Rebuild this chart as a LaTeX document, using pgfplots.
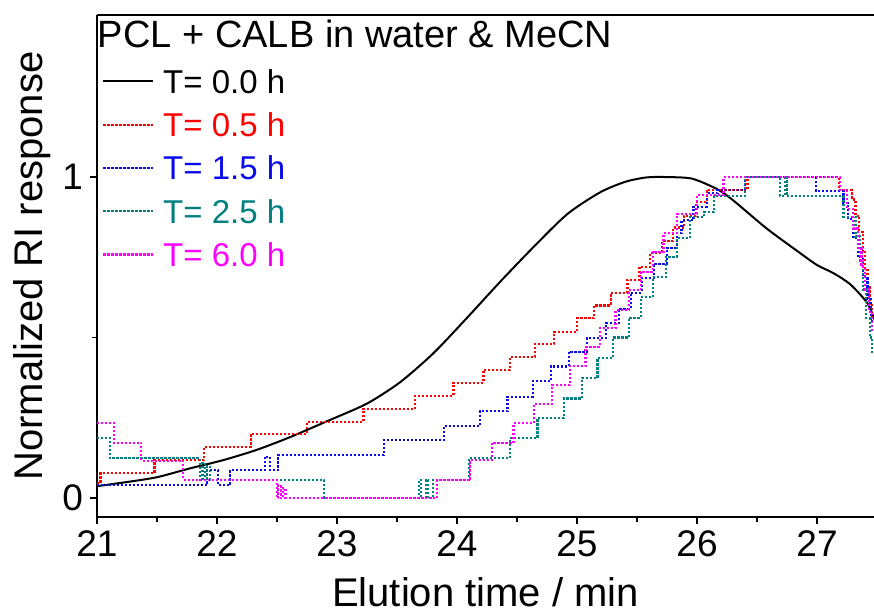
\documentclass[border=0pt]{standalone}
\usepackage{pgfplots}
\pgfplotsset{compat=1.18}
\usepackage{fontspec}
\setmainfont{Liberation Sans}
\definecolor{cred}{RGB}{255,0,0}
\definecolor{cblue}{RGB}{10,10,235}
\definecolor{cteal}{RGB}{0,128,128}
\definecolor{cmag}{RGB}{255,0,255}
\tikzset{dotl/.style={line width=1.1pt, dash pattern=on 1.1pt off 0.9pt}}
\begin{document}
\begin{tikzpicture}
\begin{axis}[
  name=ax, scale only axis, width=388.5pt, height=251pt,
  xmin=21, xmax=27.475, ymin=-0.059, ymax=1.505,
  axis x line*=box, axis y line*=left,
  xtick={21,22,...,27}, minor xtick={21.5,22.5,...,27.5}, xtick pos=left,
  ytick={0,1}, minor ytick={0.5}, ytick pos=left,
  tick align=outside, major tick length=3.5pt, minor tick length=2.5pt,
  tick style={line width=0.8pt, black},
  axis line style={line width=1pt},
  ticklabel style={font=\fontsize{18.5}{22}\selectfont},
  /pgf/number format/assume math mode=true,
  xlabel={Elution time / min}, ylabel={Normalized RI response},
  every axis x label/.style={at={([yshift=-44.85pt]axis description cs:0.5,0)}, anchor=base, font=\fontsize{20}{24}\selectfont},
  every axis y label/.style={at={([xshift=-27pt]axis description cs:0,0.5)}, anchor=base, rotate=90, font=\fontsize{20}{24}\selectfont},
  legend style={at={(0,1)}, anchor=north west, xshift=2.5pt, yshift=-27pt, draw=none, fill=none, inner sep=0pt,
    font=\fontsize{16.5}{19}\selectfont, row sep=9.65pt, column sep=4.3pt,
    nodes={inner sep=0pt, text height=12pt, text depth=0pt}},
  legend cell align=left,
  legend image code/.code={\draw[#1] (0pt,0pt) -- (25pt,0pt);},
]
\addplot[black, line width=1pt, smooth, tension=0.45] coordinates {
(21.0,0.037)(21.25,0.05)(21.5,0.065)(21.78,0.093)(22.05,0.118)(22.33,0.15)(22.61,0.19)(22.89,0.235)(23.17,0.28)(23.3,0.305)(23.53,0.362)(23.8,0.45)(24.08,0.56)(24.36,0.674)(24.64,0.783)(24.92,0.885)(25.19,0.952)(25.40,0.985)(25.58,0.999)(25.75,1.0)(25.96,0.995)(26.17,0.962)(26.30,0.928)(26.58,0.84)(26.86,0.763)(27.0,0.726)(27.14,0.70)(27.28,0.665)(27.42,0.607)(27.48,0.555)};
\addlegendentry{T= 0.0 h}
\addplot[cred, dotl, const plot] coordinates {
(21.0,0.047)(21.03,0.078)(21.48,0.118)(21.89,0.16)(22.28,0.199)(22.75,0.238)(23.22,0.277)(23.65,0.318)(23.97,0.359)(24.22,0.399)(24.44,0.44)(24.65,0.48)(24.81,0.518)(25.0,0.56)(25.14,0.60)(25.28,0.64)(25.42,0.68)(25.52,0.72)(25.61,0.763)(25.71,0.80)(25.80,0.843)(25.89,0.88)(25.99,0.923)(26.08,0.96)(26.42,1.0)(27.18,0.96)(27.29,0.93)(27.32,0.88)(27.35,0.83)(27.38,0.77)(27.40,0.71)(27.42,0.66)(27.44,0.60)(27.46,0.55)(27.48,0.55)};
\addlegendentry{\textcolor{cred}{T= 0.5 h}}
\addplot[cblue, dotl, const plot] coordinates {
(21.0,0.04)(21.92,0.087)(22.01,0.04)(22.11,0.087)(22.40,0.129)(22.44,0.087)(22.51,0.134)(23.39,0.18)(23.89,0.224)(24.19,0.271)(24.42,0.316)(24.63,0.364)(24.78,0.41)(24.93,0.456)(25.08,0.498)(25.24,0.545)(25.35,0.59)(25.45,0.64)(25.54,0.685)(25.64,0.73)(25.75,0.78)(25.83,0.825)(25.87,0.866)(25.97,0.908)(26.08,0.95)(26.17,0.96)(26.40,1.0)(26.99,0.957)(27.22,0.92)(27.26,0.87)(27.30,0.81)(27.34,0.75)(27.38,0.69)(27.42,0.62)(27.45,0.55)(27.48,0.55)};
\addlegendentry{\textcolor{cblue}{T= 1.5 h}}
\addplot[cteal, dotl, const plot] coordinates {
(21.0,0.188)(21.11,0.124)(21.86,0.056)(21.88,0.11)(21.90,0.056)(21.92,0.10)(21.94,0.056)(22.89,0.0)(23.68,0.056)(23.70,0.0)(23.74,0.056)(23.76,0.0)(23.80,0.056)(24.10,0.124)(24.44,0.187)(24.67,0.249)(24.89,0.31)(25.04,0.374)(25.17,0.436)(25.30,0.50)(25.43,0.562)(25.53,0.626)(25.63,0.689)(25.74,0.752)(25.83,0.81)(25.94,0.876)(26.06,0.89)(26.14,0.94)(26.40,1.0)(26.69,0.94)(26.73,1.0)(26.75,0.94)(27.22,0.876)(27.32,0.815)(27.36,0.74)(27.38,0.65)(27.41,0.56)(27.44,0.50)(27.46,0.45)(27.48,0.45)};
\addlegendentry{\textcolor{cteal}{T= 2.5 h}}
\addplot[cmag, dotl, const plot] coordinates {
(21.0,0.235)(21.14,0.172)(21.37,0.116)(21.72,0.056)(22.50,0.0)(22.51,0.04)(22.53,0.0)(22.55,0.03)(22.57,0.0)(23.83,0.056)(24.11,0.118)(24.29,0.172)(24.47,0.233)(24.64,0.292)(24.79,0.352)(24.94,0.411)(25.07,0.471)(25.19,0.53)(25.32,0.586)(25.43,0.648)(25.53,0.705)(25.63,0.767)(25.72,0.825)(25.83,0.885)(26.0,0.944)(26.22,1.0)(27.19,0.96)(27.25,0.90)(27.30,0.84)(27.34,0.78)(27.37,0.72)(27.40,0.65)(27.43,0.58)(27.46,0.52)(27.48,0.52)};
\addlegendentry{\textcolor{cmag}{T= 6.0 h}}
\end{axis}
\node[anchor=base west, inner sep=0pt, font=\fontsize{19}{22}\selectfont] at ([xshift=0.3pt, yshift=-16.5pt]ax.north west) {PCL + CALB in water \& MeCN};
\pgfresetboundingbox
\path[use as bounding box] ([xshift=-48.5pt, yshift=-49pt]ax.south west) rectangle ([yshift=7.5pt]ax.north east);
\end{tikzpicture}
\end{document}
